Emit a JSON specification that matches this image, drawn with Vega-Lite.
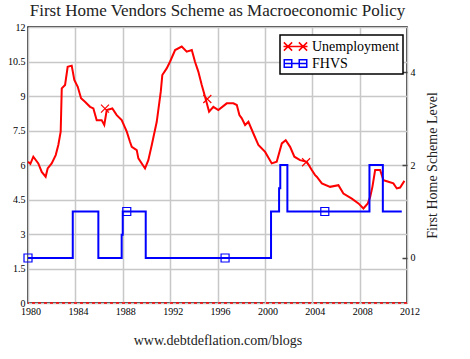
{
  "$schema": "https://vega.github.io/schema/vega-lite/v6.json",
  "width": 379,
  "height": 276,
  "autosize": {"type": "none"},
  "padding": {"left": 28, "top": 27, "right": 63, "bottom": 56},
  "background": "white",
  "config": {
    "view": {"stroke": "#000", "strokeWidth": 1.5},
    "font": "Liberation Serif"
  },
  "title": {
    "text": "First Home Vendors Scheme as Macroeconomic Policy",
    "anchor": "middle",
    "frame": "group",
    "font": "Liberation Serif",
    "fontSize": 17,
    "fontWeight": "normal",
    "color": "#222",
    "baseline": "alphabetic",
    "offset": -11
  },
  "datasets": {
    "unemployment": [
      {"year": 1980.0, "value": 6.14}, {"year": 1980.2, "value": 6.05}, {"year": 1980.45, "value": 6.36},
      {"year": 1980.87, "value": 6.07}, {"year": 1981.16, "value": 5.7}, {"year": 1981.49, "value": 5.49},
      {"year": 1981.66, "value": 5.85}, {"year": 1982.0, "value": 6.07}, {"year": 1982.34, "value": 6.43},
      {"year": 1982.56, "value": 6.87}, {"year": 1982.76, "value": 7.45}, {"year": 1982.85, "value": 9.33},
      {"year": 1983.13, "value": 9.48}, {"year": 1983.35, "value": 10.27}, {"year": 1983.69, "value": 10.32},
      {"year": 1983.91, "value": 9.7}, {"year": 1984.2, "value": 9.4}, {"year": 1984.48, "value": 8.9},
      {"year": 1984.81, "value": 8.75}, {"year": 1985.24, "value": 8.53}, {"year": 1985.52, "value": 8.46},
      {"year": 1985.8, "value": 7.95}, {"year": 1986.22, "value": 7.95}, {"year": 1986.44, "value": 7.74},
      {"year": 1986.65, "value": 8.39}, {"year": 1987.12, "value": 8.46}, {"year": 1987.49, "value": 8.17},
      {"year": 1987.91, "value": 7.95}, {"year": 1988.34, "value": 7.45}, {"year": 1988.61, "value": 7.01},
      {"year": 1988.76, "value": 6.79}, {"year": 1989.18, "value": 6.65}, {"year": 1989.32, "value": 6.29},
      {"year": 1989.88, "value": 5.85}, {"year": 1990.16, "value": 6.21}, {"year": 1990.45, "value": 6.87},
      {"year": 1990.87, "value": 7.88}, {"year": 1991.21, "value": 9.19}, {"year": 1991.34, "value": 9.91},
      {"year": 1991.71, "value": 10.2}, {"year": 1991.99, "value": 10.49}, {"year": 1992.42, "value": 11.0},
      {"year": 1992.98, "value": 11.15}, {"year": 1993.4, "value": 10.93}, {"year": 1993.83, "value": 11.0},
      {"year": 1994.1, "value": 10.49}, {"year": 1994.38, "value": 10.06}, {"year": 1994.67, "value": 9.48},
      {"year": 1994.95, "value": 8.97}, {"year": 1995.29, "value": 8.32}, {"year": 1995.65, "value": 8.53},
      {"year": 1996.07, "value": 8.39}, {"year": 1996.78, "value": 8.68}, {"year": 1997.34, "value": 8.68},
      {"year": 1997.63, "value": 8.61}, {"year": 1997.85, "value": 8.17}, {"year": 1998.05, "value": 8.03},
      {"year": 1998.33, "value": 7.74}, {"year": 1998.61, "value": 7.88}, {"year": 1999.03, "value": 7.37},
      {"year": 1999.45, "value": 6.87}, {"year": 2000.02, "value": 6.57}, {"year": 2000.58, "value": 6.07},
      {"year": 2001.0, "value": 6.14}, {"year": 2001.43, "value": 6.94}, {"year": 2001.76, "value": 7.08},
      {"year": 2002.13, "value": 6.79}, {"year": 2002.49, "value": 6.36}, {"year": 2002.97, "value": 6.21},
      {"year": 2003.54, "value": 6.14}, {"year": 2003.96, "value": 5.78}, {"year": 2004.24, "value": 5.56},
      {"year": 2004.38, "value": 5.49}, {"year": 2004.81, "value": 5.2}, {"year": 2005.51, "value": 5.05},
      {"year": 2006.21, "value": 5.12}, {"year": 2006.63, "value": 4.76}, {"year": 2007.34, "value": 4.54},
      {"year": 2007.9, "value": 4.33}, {"year": 2008.32, "value": 4.11}, {"year": 2008.69, "value": 4.33},
      {"year": 2008.89, "value": 4.61}, {"year": 2009.08, "value": 5.05}, {"year": 2009.31, "value": 5.78},
      {"year": 2009.73, "value": 5.78}, {"year": 2010.01, "value": 5.34}, {"year": 2010.43, "value": 5.27},
      {"year": 2010.85, "value": 5.2}, {"year": 2011.14, "value": 4.98}, {"year": 2011.42, "value": 5.02},
      {"year": 2011.78, "value": 5.31}
    ],
    "unemp_markers": [
      {"year": 1986.5, "value": 8.45},
      {"year": 1995.14, "value": 8.87},
      {"year": 2003.48, "value": 6.12}
    ],
    "fhvs": [
      {"year": 1980.0, "level": 0}, {"year": 1983.78, "level": 1}, {"year": 1985.94, "level": 0},
      {"year": 1987.91, "level": 0.5}, {"year": 1988.0, "level": 1}, {"year": 1989.94, "level": 0},
      {"year": 2000.52, "level": 1}, {"year": 2001.2, "level": 1.5}, {"year": 2001.3, "level": 2},
      {"year": 2001.9, "level": 1}, {"year": 2008.83, "level": 2}, {"year": 2009.96, "level": 1},
      {"year": 2011.56, "level": 1}
    ],
    "fhvs_markers": [
      {"year": 1980.0, "level": 0},
      {"year": 1988.34, "level": 1},
      {"year": 1996.64, "level": 0},
      {"year": 2005.06, "level": 1}
    ]
  },
  "layer": [
    {
      "layer": [
        {
          "data": {"name": "unemployment"},
          "mark": {"type": "line", "strokeWidth": 2},
          "encoding": {
            "x": {
              "field": "year", "type": "quantitative",
              "scale": {"domain": [1980, 2012], "nice": false, "zero": false},
              "axis": {
                "values": [1980, 1984, 1988, 1992, 1996, 2000, 2004, 2008, 2012],
                "tickCount": 20,
                "format": "d", "grid": true, "ticks": false, "domain": false,
                "gridColor": "#c8c8c8", "gridWidth": 1.5,
                "labelPadding": 3, "labelOffset": 2.5, "labelOverlap": false, "labelFlush": false,
                "encode": {"labels": {"update": {"font": {"value": "Liberation Serif"}, "fontSize": {"value": 12}, "fill": {"value": "#222"}}}},
                "title": "www.debtdeflation.com/blogs",
                "titleFont": "Liberation Serif", "titleFontSize": 14, "titleFontWeight": "normal",
                "titleColor": "#222", "titlePadding": 17
              }
            },
            "y": {
              "field": "value", "type": "quantitative",
              "scale": {"domain": [0, 12], "nice": false, "zero": false},
              "axis": {
                "orient": "left",
                "values": [0, 1.5, 3, 4.5, 6, 7.5, 9, 10.5, 12],
                "tickCount": 20,
                "format": "~g",
                "title": null, "grid": true, "ticks": false, "domain": false,
                "gridColor": "#c8c8c8", "gridWidth": 1.5,
                "labelPadding": 3, "labelOverlap": false, "labelFlush": false,
                "encode": {"labels": {"update": {"font": {"value": "Liberation Serif"}, "fontSize": {"value": 12}, "fill": {"value": "#222"}}}}
              }
            },
            "color": {
              "datum": "Unemployment",
              "scale": {"domain": ["Unemployment", "FHVS"], "range": ["#ff0000", "#0000ff"]},
              "legend": {
                "title": null,
                "orient": "none",
                "legendX": 252,
                "legendY": 8,
                "direction": "vertical",
                "fillColor": "white",
                "strokeColor": "#000",
                "padding": 3,
                "symbolSize": 225,
                "symbolStrokeWidth": 1.5,
                "symbolOffset": 4,
                "labelOffset": 8,
                "rowPadding": 1,
                "encode": {
                  "legend": {"update": {"strokeWidth": {"value": 1.5}}},
                  "labels": {"update": {"font": {"value": "Liberation Serif"}, "fontSize": {"value": 14}, "fill": {"value": "#000"}}},
                  "symbols": {
                    "update": {
                      "shape": {"signal": "datum.value === 'Unemployment' ? 'M-1.6,0H1.6M-1.55,-0.55L-0.45,0.55M-1.55,0.55L-0.45,-0.55M0.45,-0.55L1.55,0.55M0.45,0.55L1.55,-0.55' : 'M-1.6,0H1.6M-1.5,-0.5H-0.5V0.5H-1.5ZM0.5,-0.5H1.5V0.5H0.5Z'"},
                      "strokeWidth": {"value": 1.5},
                      "fill": {"value": "transparent"}
                    }
                  }
                }
              }
            }
          }
        },
        {
          "data": {"name": "unemp_markers"},
          "mark": {"type": "point", "shape": "M-1,-1L1,1M-1,1L1,-1", "filled": false, "stroke": "#ff0000", "strokeWidth": 1.2, "size": 64, "opacity": 1},
          "encoding": {
            "x": {"field": "year", "type": "quantitative"},
            "y": {"field": "value", "type": "quantitative"}
          }
        },
        {
          "data": {"values": [{}]},
          "mark": {"type": "rule", "color": "#ff0000", "strokeWidth": 1.5, "strokeDash": [3, 3]},
          "encoding": {"y": {"datum": 0, "type": "quantitative"}}
        }
      ]
    },
    {
      "layer": [
        {
          "data": {"name": "fhvs"},
          "mark": {"type": "line", "strokeWidth": 2, "interpolate": "step-after"},
          "encoding": {
            "x": {"field": "year", "type": "quantitative"},
            "y": {
              "field": "level", "type": "quantitative",
              "scale": {"domain": [-0.968, 4.968], "nice": false, "zero": false},
              "axis": {
                "orient": "right",
                "values": [0, 2, 4],
                "tickCount": 20,
                "format": "~g",
                "grid": false, "domain": false, "ticks": true,
                "tickSize": -5, "tickColor": "#444", "tickWidth": 1.5,
                "labelPadding": 8, "labelFlush": false,
                "encode": {"labels": {"update": {"font": {"value": "Liberation Serif"}, "fontSize": {"value": 12}, "fill": {"value": "#222"}}}},
                "title": "First Home Scheme Level",
                "titleFont": "Liberation Serif", "titleFontSize": 14, "titleFontWeight": "normal",
                "titleColor": "#222", "titleAngle": 270, "titlePadding": 24
              }
            },
            "color": {"datum": "FHVS"}
          }
        },
        {
          "data": {"name": "fhvs_markers"},
          "mark": {"type": "point", "shape": "square", "filled": false, "stroke": "#0000ff", "strokeWidth": 1.2, "size": 64, "opacity": 1},
          "encoding": {
            "x": {"field": "year", "type": "quantitative"},
            "y": {"field": "level", "type": "quantitative"}
          }
        }
      ]
    }
  ],
  "resolve": {"scale": {"y": "independent"}}
}
